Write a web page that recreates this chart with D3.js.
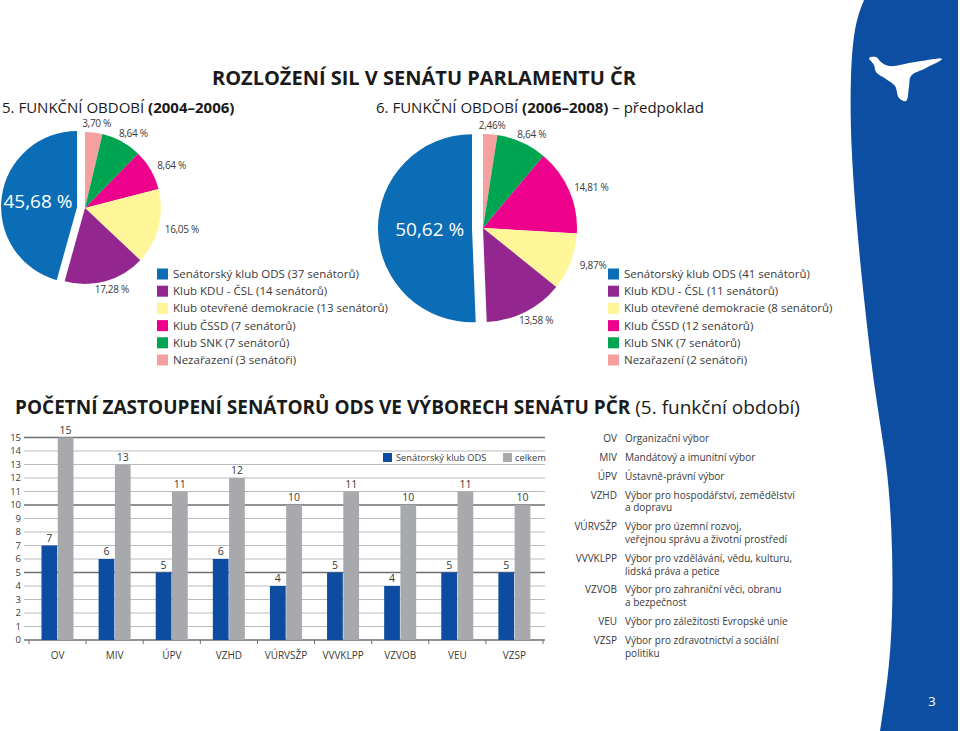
<!DOCTYPE html>
<html>
<head>
<meta charset="utf-8">
<script src="https://cdn.jsdelivr.net/npm/d3@7"></script>
<style>
  body { margin: 0; background: #fff; }
  svg text { font-family: 'Open Sans', 'Noto Sans', sans-serif; }
</style>
</head>
<body>
<div id="graph"></div>
<script>
// party data, legend order
const parties = ["Senátorský klub ODS", "Klub KDU - ČSL", "Klub otevřené demokracie", "Klub ČSSD", "Klub SNK", "Nezařazení"];
const partyColors = ["#0a6db5", "#93278f", "#fff69a", "#ec008c", "#00a551", "#f4a0a0"];
const seats5 = ["37 senátorů", "14 senátorů", "13 senátorů", "7 senátorů", "7 senátorů", "3 senátoři"];
const seats6 = ["41 senátorů", "11 senátorů", "8 senátorů", "12 senátorů", "7 senátorů", "2 senátoři"];
const share5 = [45.68, 17.28, 16.05, 8.64, 8.64, 3.70];
const share6 = [50.62, 13.58, 9.87, 14.81, 8.64, 2.46];
const shareLabels5 = ["45,68 %", "17,28 %", "16,05 %", "8,64 %", "8,64 %", "3,70 %"];
const shareLabels6 = ["50,62 %", "13,58 %", "9,87%", "14,81 %", "8,64 %", "2,46%"];

// committees
const committees = ["OV", "MIV", "ÚPV", "VZHD", "VÚRVSŽP", "VVVKLPP", "VZVOB", "VEU", "VZSP"];
const odsMembers = [7, 6, 5, 6, 4, 5, 4, 5, 5];
const totalMembers = [15, 13, 11, 12, 10, 11, 10, 11, 10];
const yTicks = d3.range(0, 16);
const committeeNames = [
  ["Organizační výbor"],
  ["Mandátový a imunitní výbor"],
  ["Ústavně-právní výbor"],
  ["Výbor pro hospodářství, zemědělství", "a dopravu"],
  ["Výbor pro územní rozvoj,", "veřejnou správu a životní prostředí"],
  ["Výbor pro vzdělávání, vědu, kulturu,", "lidská práva a petice"],
  ["Výbor pro zahraniční věci, obranu", "a bezpečnost"],
  ["Výbor pro záležitosti Evropské unie"],
  ["Výbor pro zdravotnictví a sociální", "politiku"]
];

const W = 960, H = 731;
const svg = d3.select("#graph").append("svg").attr("width", W).attr("height", H);
const textCol = "#3a3a3a";

// right blue band
const bandEdge = [[864, 0], [854, 25], [850, 80], [851, 150], [857, 230], [864, 300], [875, 395], [887, 463], [892, 530], [893, 600], [890, 665], [880, 731]];
const bandPath = d3.line().curve(d3.curveBasis)(bandEdge) + "L958,731L958,0Z";
svg.append("path").attr("d", bandPath).attr("fill", "#0b4ea2");

const dove = [[869, 58], [876, 57], [881, 62], [889, 66], [915, 62], [942, 59], [926, 68], [911, 76], [909, 87], [906, 101], [899, 98], [895, 86], [886, 79], [876, 72], [874, 65]];
svg.append("path")
  .attr("d", d3.line().curve(d3.curveCatmullRomClosed.alpha(0.5))(dove))
  .attr("fill", "#fff");

svg.append("text").attr("x", 932).attr("y", 706).attr("text-anchor", "middle")
  .attr("fill", "#fff").attr("font-size", 13).text("3");

// titles
svg.append("text").attr("x", 424).attr("y", 85).attr("text-anchor", "middle")
  .attr("font-size", 20).attr("font-weight", "bold").attr("fill", "#1a1a1a")
  .text("ROZLOŽENÍ SIL V SENÁTU PARLAMENTU ČR");

function periodTitle(x, normal, bold, tail) {
  const t = svg.append("text").attr("x", x).attr("y", 113).attr("font-size", 15).attr("fill", "#1a1a1a");
  t.append("tspan").text(normal);
  t.append("tspan").attr("font-weight", "bold").text(bold);
  if (tail) t.append("tspan").text(tail);
}
periodTitle(2, "5. FUNKČNÍ OBDOBÍ ", "(2004–2006)");
periodTitle(376, "6. FUNKČNÍ OBDOBÍ ", "(2006–2008)", " – předpoklad");

// pies
function drawPie(cx, cy, r, shares, labels, explode, innerK) {
  const idx = d3.range(shares.length).reverse(); // clockwise: Nezařazení ... ODS
  const pie = d3.pie().sort(null).value(i => shares[i]);
  const arcs = pie(idx);
  const arc = d3.arc().innerRadius(0).outerRadius(r);
  const labelArc = d3.arc().innerRadius(r + 9).outerRadius(r + 9);
  const g = svg.append("g").attr("transform", `translate(${cx},${cy})`);
  arcs.forEach(a => {
    const mid = (a.startAngle + a.endAngle) / 2;
    const off = a.data === 0 ? explode : 0;
    const dx = Math.sin(mid) * off, dy = -Math.cos(mid) * off;
    g.append("path").attr("d", arc(a)).attr("fill", partyColors[a.data])
      .attr("transform", `translate(${dx},${dy})`);
    if (a.data === 0) {
      const ia = d3.arc().innerRadius(r * innerK).outerRadius(r * innerK);
      const c = ia.centroid(a);
      g.append("text").attr("x", c[0] + dx).attr("y", c[1] + dy).attr("dy", "0.35em")
        .attr("text-anchor", "middle").attr("font-size", 19).attr("fill", "#fff")
        .text(labels[a.data]);
    } else {
      const c = labelArc.centroid(a);
      g.append("text").attr("x", c[0] + Math.sin(mid) * 15).attr("y", c[1]).attr("dy", "0.35em")
        .attr("text-anchor", "middle").attr("font-size", 10).attr("fill", textCol)
        .attr("letter-spacing", "-0.3").text(labels[a.data]);
    }
  });
}
drawPie(85, 208, 76, share5, shareLabels5, 8, 0.52);
drawPie(483, 228, 94, share6, shareLabels6, 11, 0.45);

function drawLegend(x, y0, seats) {
  parties.forEach((p, i) => {
    const y = y0 + i * 17.2;
    svg.append("rect").attr("x", x).attr("y", y - 5.5).attr("width", 11).attr("height", 11)
      .attr("fill", partyColors[i]);
    svg.append("text").attr("x", x + 16).attr("y", y).attr("dy", "0.35em")
      .attr("font-size", 11.5).attr("fill", textCol).text(`${p} (${seats[i]})`);
  });
}
drawLegend(157, 274, seats5);
drawLegend(608, 274, seats6);

// bar chart section
const st = svg.append("text").attr("x", 15).attr("y", 414).attr("font-size", 19).attr("fill", "#1a1a1a");
st.append("tspan").attr("font-weight", "bold").text("POČETNÍ ZASTOUPENÍ SENÁTORŮ ODS VE VÝBORECH SENÁTU PČR ");
st.append("tspan").text("(5. funkční období)");

const x0 = d3.scaleBand().domain(committees).range([29, 543]);
const x1 = d3.scaleBand().domain(["ods", "celkem"]).range([12.5, 44.5]).paddingInner(0.03);
const y = d3.scaleLinear().domain([0, 15]).range([640, 437.5]);

const chart = svg.append("g");
chart.selectAll(".grid").data(yTicks).enter().append("line")
  .attr("x1", 24).attr("x2", 545)
  .attr("y1", d => y(d)).attr("y2", d => y(d))
  .attr("stroke", d => d % 5 === 0 ? "#6d6e71" : "#a7a9ac")
  .attr("stroke-width", d => d % 5 === 0 ? 1.4 : 0.8);
chart.selectAll(".ytick").data(yTicks).enter().append("text")
  .attr("x", 21).attr("y", d => y(d)).attr("dy", "0.35em").attr("text-anchor", "end")
  .attr("font-size", 9.5).attr("fill", textCol).text(d => d);
chart.selectAll(".xtick").data(committees.concat([null])).enter().append("line")
  .attr("x1", d => d ? x0(d) : x0.range()[1]).attr("x2", d => d ? x0(d) : x0.range()[1])
  .attr("y1", y(0)).attr("y2", y(0) + 4).attr("stroke", "#6d6e71");

const series = [
  {key: "ods", values: odsMembers, color: "#0c4da2"},
  {key: "celkem", values: totalMembers, color: "#a7a9ac"}
];
series.forEach(s => {
  chart.selectAll(".bar-" + s.key).data(committees).enter().append("rect")
    .attr("x", d => x0(d) + x1(s.key)).attr("width", x1.bandwidth())
    .attr("y", (d, i) => y(s.values[i])).attr("height", (d, i) => y(0) - y(s.values[i]))
    .attr("fill", s.color);
  chart.selectAll(".val-" + s.key).data(committees).enter().append("text")
    .attr("x", d => x0(d) + x1(s.key) + x1.bandwidth() / 2)
    .attr("y", (d, i) => y(s.values[i]) - 4).attr("text-anchor", "middle")
    .attr("font-size", 10.5).attr("fill", textCol).text((d, i) => s.values[i]);
});
chart.selectAll(".xlab").data(committees).enter().append("text")
  .attr("x", d => x0(d) + x0.bandwidth() / 2).attr("y", 659).attr("text-anchor", "middle")
  .attr("font-size", 10).attr("fill", textCol).text(d => d);

// chart legend
const lg = chart.append("g");
lg.append("rect").attr("x", 383).attr("y", 453).attr("width", 9).attr("height", 9).attr("fill", series[0].color);
lg.append("text").attr("x", 396).attr("y", 458).attr("dy", "0.35em").attr("font-size", 9.3).attr("fill", textCol).text("Senátorský klub ODS");
lg.append("rect").attr("x", 503).attr("y", 453).attr("width", 9).attr("height", 9).attr("fill", series[1].color);
lg.append("text").attr("x", 515).attr("y", 458).attr("dy", "0.35em").attr("font-size", 9.3).attr("fill", textCol).text("celkem");

// committee list
let ly = 438;
committees.forEach((c, i) => {
  svg.append("text").attr("x", 617).attr("y", ly).attr("dy", "0.35em").attr("text-anchor", "end")
    .attr("font-size", 10).attr("fill", textCol).text(c);
  committeeNames[i].forEach((line, j) => {
    svg.append("text").attr("x", 625).attr("y", ly + j * 12.8).attr("dy", "0.35em")
      .attr("font-size", 10).attr("fill", textCol).text(line);
  });
  ly += 19 + 12.6 * (committeeNames[i].length - 1);
});
</script>
</body>
</html>
